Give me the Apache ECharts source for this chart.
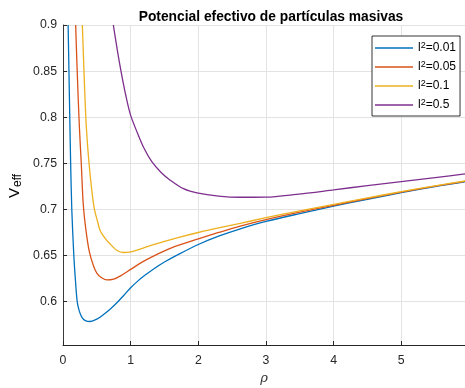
<!DOCTYPE html>
<html>
<head>
<meta charset="utf-8">
<script src="https://cdn.jsdelivr.net/npm/echarts@6/dist/echarts.min.js"></script>
<style>
html,body{margin:0;padding:0;background:#fff;}
#c{width:465px;height:388px;}
</style>
</head>
<body>
<div id="c"></div>
<script>
const titleText = 'Potencial efectivo de partículas masivas';
const seriesNames = ['l2=0.01', 'l2=0.05', 'l2=0.1', 'l2=0.5'];

const rhoA = [0.076,0.088,0.100,0.113,0.130,0.160,0.185,0.21,0.24,0.28,0.33,0.40,0.50,0.60,0.70,0.80,0.90,1.00,1.10,1.20,1.35,1.50,1.70,2.00,2.30,2.62,3.00,3.50,4.00,4.50,5.00,5.50,6.00];
const vA   = [0.90,0.85,0.80,0.75,0.70,0.65,0.622,0.600,0.590,0.583,0.5795,0.5785,0.581,0.586,0.592,0.599,0.607,0.615,0.622,0.628,0.636,0.643,0.651,0.662,0.671,0.679,0.687,0.6955,0.7035,0.711,0.7183,0.7248,0.7305];

const rhoB = [0.187,0.205,0.225,0.245,0.27,0.30,0.34,0.39,0.45,0.50,0.56,0.65,0.75,0.85,1.00,1.15,1.30,1.50,1.70,2.00,2.30,2.62,3.00,3.50,4.00,4.50,5.00,5.50,6.00];
const vB   = [0.90,0.86,0.82,0.785,0.75,0.705,0.677,0.654,0.639,0.631,0.6265,0.6236,0.6245,0.628,0.635,0.642,0.648,0.655,0.661,0.668,0.675,0.682,0.689,0.697,0.7045,0.7118,0.7188,0.7252,0.731];

const rhoC = [0.286,0.31,0.337,0.358,0.385,0.43,0.465,0.507,0.55,0.62,0.69,0.80,0.89,1.00,1.14,1.30,1.50,1.70,2.00,2.30,2.62,3.00,3.50,4.00,4.50,5.00,5.50,6.00];
const vC   = [0.90,0.85,0.80,0.775,0.75,0.718,0.70,0.688,0.677,0.669,0.663,0.6555,0.6533,0.654,0.657,0.661,0.6655,0.6695,0.675,0.680,0.685,0.691,0.6985,0.7055,0.7125,0.7193,0.7256,0.7315];

const rhoD = [0.744,0.80,0.857,0.93,1.00,1.10,1.20,1.31,1.45,1.58,1.78,1.98,2.30,2.62,3.00,3.45,4.00,4.50,5.00,5.50,6.00];
const vD   = [0.90,0.874,0.85,0.823,0.802,0.783,0.766,0.752,0.740,0.732,0.7225,0.718,0.7145,0.7132,0.7133,0.7163,0.7212,0.7258,0.7302,0.7346,0.739];

const colors = ['#0072BD', '#D95319', '#EDB120', '#7E2F8E'];
const zip = (xs, ys) => xs.map((x, i) => [x, ys[i]]);
const allData = [zip(rhoA, vA), zip(rhoB, vB), zip(rhoC, vC), zip(rhoD, vD)];

const chart = echarts.init(document.getElementById('c'), null, {renderer: 'canvas'});
const font = 'Liberation Sans, Arial, Helvetica, sans-serif';

chart.setOption({
  animation: false,
  backgroundColor: '#fff',
  textStyle: {fontFamily: font},
  title: {
    text: titleText,
    left: 266, top: 5,
    textAlign: 'center',
    textStyle: {fontSize: 13.8, fontWeight: 'bold', color: '#000', fontFamily: font}
  },
  grid: {left: 63, top: 25, width: 402, height: 320, containLabel: false, outerBoundsMode: 'none'},
  xAxis: {
    type: 'value', min: 0, max: 5.942, interval: 1,
    name: 'ρ', nameLocation: 'middle', nameGap: 26,
    nameTextStyle: {fontSize: 13, fontStyle: 'italic', fontFamily: 'DejaVu Serif, serif', color: '#333'},
    axisLine: {show: true, onZero: false, lineStyle: {color: '#262626', width: 1}},
    axisTick: {show: true, inside: true, length: 4, lineStyle: {color: '#262626'}},
    axisLabel: {color: '#262626', fontSize: 12.3, margin: 10, fontFamily: font, showMaxLabel: false},
    splitLine: {show: true, lineStyle: {color: '#e3e3e3', width: 1}}
  },
  yAxis: {
    type: 'value', min: 0.553, max: 0.9,
    splitNumber: 7,
    axisLine: {show: true, onZero: false, lineStyle: {color: '#3a3a3a', width: 1}},
    axisTick: {show: true, inside: true, length: 4, lineStyle: {color: '#262626'}},
    axisLabel: {color: '#262626', fontSize: 12.3, margin: 6, fontFamily: font, showMinLabel: false,
      formatter: v => String(Math.round(v * 100) / 100)},
    splitLine: {show: true, lineStyle: {color: '#e3e3e3', width: 1}}
  },
  legend: {
    orient: 'vertical',
    left: 372, top: 36,
    padding: [5, 4, 5, 3],
    itemGap: 6,
    itemWidth: 38, itemHeight: 1.5,
    itemTextGap: 2,
    icon: 'rect',
    borderColor: '#000', borderWidth: 0.8, borderRadius: 0,
    backgroundColor: '#fff',
    data: seriesNames,
    formatter: name => '{t|l}{s|2}{t|' + name.slice(2) + '}',
    textStyle: {
      color: '#000', fontSize: 12, fontFamily: font,
      rich: {
        t: {fontSize: 12, color: '#000', fontFamily: font, height: 14},
        s: {fontSize: 9, color: '#000', verticalAlign: 'top', fontFamily: font}
      }
    }
  },
  graphic: [{
    type: 'group',
    x: 15, y: 188,
    rotation: Math.PI / 2,
    children: [
      {type: 'text', x: -10, y: 0, style: {text: 'V', fontSize: 15, fill: '#000', fontFamily: font, textVerticalAlign: 'middle', textAlign: 'left'}},
      {type: 'text', x: 1, y: 3, style: {text: 'eff', fontSize: 12, fill: '#000', fontFamily: font, textVerticalAlign: 'middle', textAlign: 'left'}}
    ]
  }],
  series: seriesNames.map((n, i) => ({
    name: n,
    type: 'line',
    data: allData[i],
    showSymbol: false,
    symbol: 'none',
    smooth: 0.3,
    clip: true,
    lineStyle: {color: colors[i], width: 1.3},
    itemStyle: {color: colors[i]}
  }))
});
</script>
</body>
</html>
